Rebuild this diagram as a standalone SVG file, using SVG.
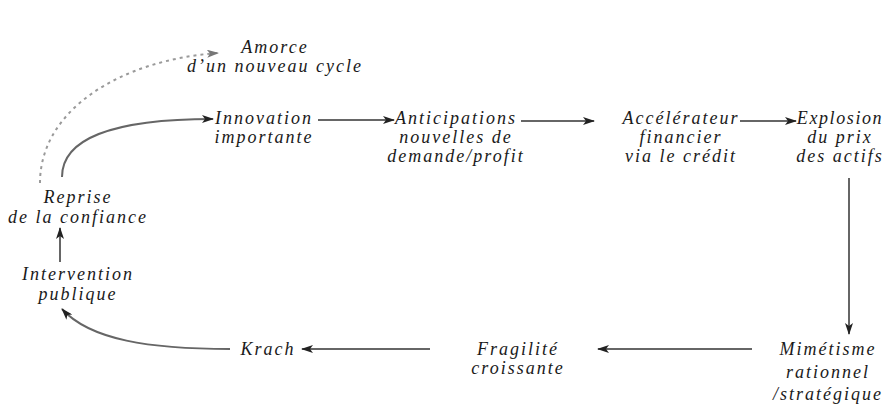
<svg xmlns="http://www.w3.org/2000/svg" width="887" height="409" viewBox="0 0 887 409">
<style>
.t{font-family:'Liberation Serif','Times New Roman',serif;font-style:italic;font-size:18px;letter-spacing:2px;fill:#1a1a1a;text-anchor:middle}
.c{fill:none;stroke:#666;stroke-width:2}
.d{fill:none;stroke:#9a9a9a;stroke-width:2;stroke-dasharray:3 4}
</style>
<defs>
<marker id="ah" markerWidth="12" markerHeight="8" refX="11" refY="4" orient="auto" markerUnits="userSpaceOnUse">
<path d="M0,0 L12,4 L0,8 L3,4 Z" fill="#222"/>
</marker>
<marker id="ahd" markerWidth="12" markerHeight="8" refX="11" refY="4" orient="auto" markerUnits="userSpaceOnUse">
<path d="M0,0 L12,4 L0,8 L3,4 Z" fill="#777"/>
</marker>
</defs>
<rect width="887" height="409" fill="#fff"/>
<g id="connectors">
<path class="d" d="M40,183 C40,110 120,60 218,53" marker-end="url(#ahd)"/>
<path class="c" d="M62,177 C62,140 110,119 213,119" marker-end="url(#ah)"/>
<path class="c" d="M318,120 L394,120" marker-end="url(#ah)"/>
<path class="c" d="M521,121 L594,121" marker-end="url(#ah)"/>
<path class="c" d="M740,121 L796,121" marker-end="url(#ah)"/>
<path class="c" d="M849,178 L849,334" marker-end="url(#ah)"/>
<path class="c" d="M752,349 L598,349" marker-end="url(#ah)"/>
<path class="c" d="M430,349 L302,349" marker-end="url(#ah)"/>
<path class="c" d="M230,349 C150,349 90,340 62,309" marker-end="url(#ah)"/>
<path class="c" d="M60,262 L60,228" marker-end="url(#ah)"/>
</g>
<g id="amorce"><text class="t" x="275" y="53">Amorce</text><text class="t" x="275" y="72">d’un nouveau cycle</text></g>
<g id="innovation"><text class="t" x="264" y="124">Innovation</text><text class="t" x="264" y="143">importante</text></g>
<g id="anticipations"><text class="t" x="456" y="124">Anticipations</text><text class="t" x="456" y="143">nouvelles de</text><text class="t" x="456" y="162">demande/profit</text></g>
<g id="accelerateur"><text class="t" x="681" y="124">Accélérateur</text><text class="t" x="681" y="143">financier</text><text class="t" x="681" y="162">via le crédit</text></g>
<g id="explosion"><text class="t" x="840" y="124" style="letter-spacing:1.6px">Explosion</text><text class="t" x="840" y="143">du prix</text><text class="t" x="840" y="162">des actifs</text></g>
<g id="mimetisme"><text class="t" x="828" y="355">Mimétisme</text><text class="t" x="828" y="378">rationnel</text><text class="t" x="828" y="400">/stratégique</text></g>
<g id="fragilite"><text class="t" x="518" y="355">Fragilité</text><text class="t" x="518" y="374">croissante</text></g>
<g id="krach"><text class="t" x="268" y="355">Krach</text></g>
<g id="intervention"><text class="t" x="78" y="280">Intervention</text><text class="t" x="78" y="300">publique</text></g>
<g id="reprise"><text class="t" x="78" y="203">Reprise</text><text class="t" x="78" y="223">de la confiance</text></g>
</svg>
